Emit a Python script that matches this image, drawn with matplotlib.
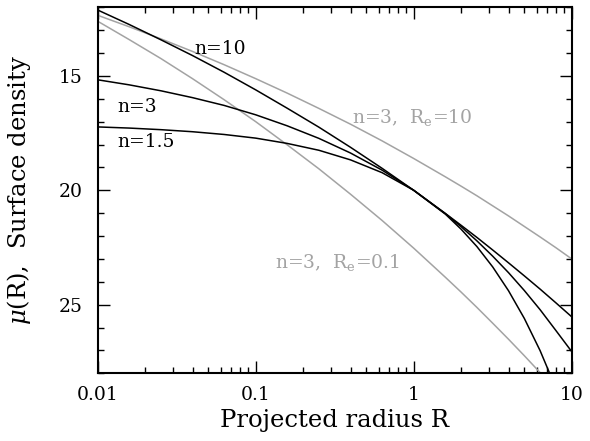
import numpy as np
import matplotlib
matplotlib.use("Agg")
import matplotlib.pyplot as plt
from matplotlib.ticker import MultipleLocator, LogLocator, FixedLocator, FixedFormatter, NullFormatter

plt.rcParams['font.family'] = ['DejaVu Serif']
plt.rcParams['mathtext.fontset'] = 'dejavuserif'

# projected radius (shared grid) and surface density values
R = [0.01, 0.0158, 0.0251, 0.0398, 0.0631, 0.1, 0.158, 0.251, 0.398, 0.631,
     1.0, 1.585, 1.995, 2.512, 3.162, 3.981, 5.012, 6.31, 7.943, 10.0]

mu_n10 = [12.12, 12.75, 13.42, 14.11, 14.84, 15.61, 16.41, 17.24, 18.12, 19.04,
          20.0, 21.01, 21.53, 22.06, 22.61, 23.17, 23.74, 24.32, 24.92, 25.53]
mu_n3 = [15.17, 15.39, 15.65, 15.95, 16.29, 16.70, 17.18, 17.73, 18.37, 19.12,
         20.0, 21.02, 21.59, 22.21, 22.88, 23.60, 24.38, 25.22, 26.13, 27.05]
mu_n15 = [17.23, 17.28, 17.35, 17.44, 17.56, 17.72, 17.95, 18.25, 18.67, 19.23,
          20.0, 21.04, 21.70, 22.46, 23.35, 24.39, 25.60, 27.01, 28.65, 30.5]
mu_re10 = [12.35, 12.85, 13.38, 13.93, 14.51, 15.12, 15.75, 16.42, 17.11, 17.84,
           18.61, 19.41, 19.82, 20.24, 20.68, 21.12, 21.58, 22.04, 22.51, 23.0]
mu_re01 = [12.61, 13.41, 14.24, 15.12, 16.04, 17.0, 18.01, 19.06, 20.17, 21.32,
           22.53, 23.80, 24.45, 25.12, 25.81, 26.51, 27.23, 27.97, 28.72, 29.49]

xticks = [0.01, 0.1, 1, 10]
xticklabels = ['0.01', '0.1', '1', '10']
yticks = [15, 20, 25]

grey = '#a3a3a3'

fig = plt.figure(figsize=(5.9, 4.41), dpi=100)
ax = fig.add_axes([0.1656, 0.1535, 0.8034, 0.8300])

ax.plot(R, mu_re10, color=grey, lw=1.1)
ax.plot(R, mu_re01, color=grey, lw=1.1)
ax.plot(R, mu_n10, color='black', lw=1.1)
ax.plot(R, mu_n3, color='black', lw=1.1)
ax.plot(R, mu_n15, color='black', lw=1.1)

ax.set_xscale('log')
ax.set_xlim(0.01, 10)
ax.set_ylim(28, 12)

ax.xaxis.set_major_locator(FixedLocator(xticks))
ax.xaxis.set_major_formatter(FixedFormatter(xticklabels))
ax.xaxis.set_minor_locator(LogLocator(base=10, subs=np.arange(2, 10)))
ax.xaxis.set_minor_formatter(NullFormatter())
ax.yaxis.set_major_locator(FixedLocator(yticks))
ax.yaxis.set_minor_locator(MultipleLocator(1))

ax.tick_params(which='both', direction='in', top=True, right=True, width=1.0)
ax.tick_params(which='major', length=8.5, labelsize=13.5)
ax.tick_params(axis='x', which='major', pad=9)
ax.tick_params(axis='y', which='major', pad=11)
ax.tick_params(which='minor', length=4.3)
for s in ax.spines.values():
    s.set_linewidth(1.5)

ax.set_xlabel('Projected radius R', fontsize=17.5)
ax.xaxis.set_label_coords(0.5, -0.097)
ax.xaxis.label.set_va('top')
ax.set_ylabel(r'$\mu$(R),  Surface density', fontsize=17.5)
ax.yaxis.set_label_coords(-0.137, 0.5)

ax.text(0.0407, 14.04, 'n=10', fontsize=13.5, color='black')
ax.text(0.0134, 16.59, 'n=3', fontsize=13.5, color='black')
ax.text(0.0134, 18.09, 'n=1.5', fontsize=13.5, color='black')
ax.text(0.408, 17.07, r'n=3,  R$_{\rm e}$=10', fontsize=13.5, color=grey)
ax.text(0.132, 23.41, r'n=3,  R$_{\rm e}$=0.1', fontsize=13.5, color=grey)

fig.savefig('out.png', dpi=100)
